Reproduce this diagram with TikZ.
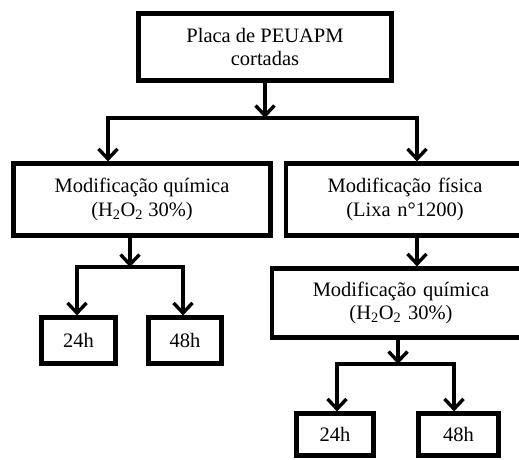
\documentclass[tikz,border=0pt]{standalone}
\usepackage{fontspec}
\setmainfont{Liberation Serif}
\usetikzlibrary{arrows.meta}
\begin{document}
\begin{tikzpicture}[x=1pt,y=-1pt,
  box/.style={draw, line width=4.2pt, rectangle, align=center, inner sep=0pt,
    font=\fontsize{20.5}{23.5}\selectfont},
  conn/.style={line width=3.4pt},
  arr/.style={line width=3.4pt, -{Straight Barb[length=10pt,width=19pt]}}]
\useasboundingbox (0,0) rectangle (519,459);
\node[box, minimum width=253pt, minimum height=67pt] (top) at (265,47) {Placa de PEUAPM\\cortadas};
\node[box, minimum width=257pt, minimum height=72pt] (left) at (142,199.5) {Modificação química\\(H\textsubscript{2}O\textsubscript{2} 30\%)};
\node[box, minimum width=243.5pt, minimum height=72pt, text width=230pt] (right) at (408,199.5) {\hspace*{-6pt}Modificação física\\\hspace*{-6pt}(Lixa n°1200)};
\node[box, minimum width=257.5pt, minimum height=69pt, text width=240pt] (chem) at (401,303) {Modificação química\\(H\textsubscript{2}O\textsubscript{2} 30\%)};
\node[box, minimum width=74pt, minimum height=46pt] (a24) at (78.5,340.5) {24h};
\node[box, minimum width=73pt, minimum height=46pt] (a48) at (185,340.5) {48h};
\node[box, minimum width=77pt, minimum height=42pt] (b24) at (335,434.5) {24h};
\node[box, minimum width=80pt, minimum height=42pt] (b48) at (458.5,434.5) {48h};
% junctions
\coordinate (j0) at (265,118);
\coordinate (jL) at (108,118);
\coordinate (jR) at (417,118);
\coordinate (l0) at (130,267);
\coordinate (lL) at (77,267);
\coordinate (lR) at (183,267);
\coordinate (r0) at (398,364);
\coordinate (rL) at (337,364);
\coordinate (rR) at (454,364);
% top level
\draw[arr] (top.south) -- (j0);
\draw[conn, line cap=rect] (jL) -- (jR);
\draw[arr] (jL) -- (jL |- left.north);
\draw[arr] (jR) -- (jR |- right.north);
% left branch
\draw[arr] (l0 |- left.south) -- (l0);
\draw[conn, line cap=rect] (lL) -- (lR);
\draw[arr] (lL) -- (lL |- a24.north);
\draw[arr] (lR) -- (lR |- a48.north);
% right branch
\draw[arr] (jR |- right.south) -- (jR |- chem.north);
\draw[arr] (r0 |- chem.south) -- (r0);
\draw[conn, line cap=rect] (rL) -- (rR);
\draw[arr] (rL) -- (rL |- b24.north);
\draw[arr] (rR) -- (rR |- b48.north);
\end{tikzpicture}
\end{document}
